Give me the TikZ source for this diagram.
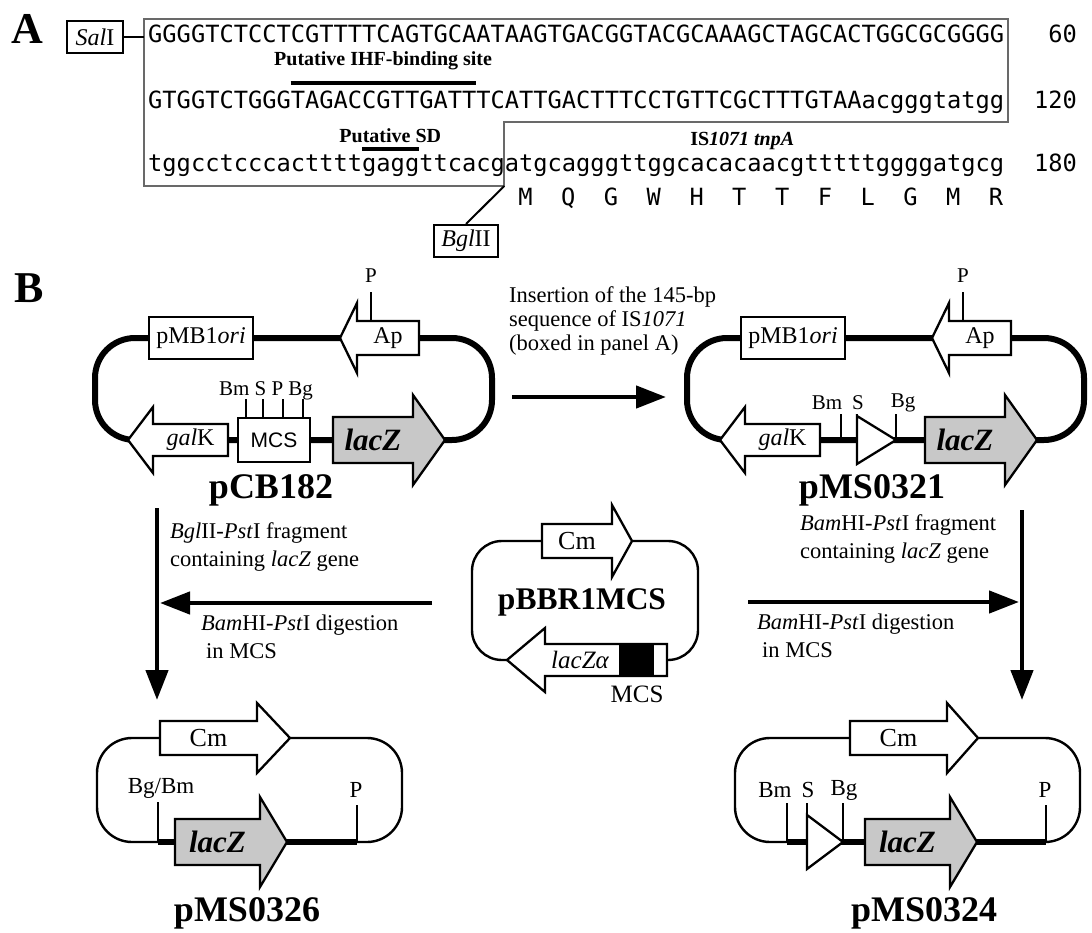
\documentclass[tikz,border=0pt]{standalone}
\usepackage{fontspec}
\setmainfont{Liberation Serif}
\newfontfamily\seqfont{DejaVu Sans Mono}
\newfontfamily\mcsfont{Liberation Sans}
\usetikzlibrary{arrows.meta}
\definecolor{lacgray}{RGB}{200,200,200}
\definecolor{boxgray}{RGB}{105,105,105}
\tikzset{
	seq/.style     ={inner sep=0pt, anchor=base west, font=\seqfont\fontsize{23.7}{28}\selectfont},
	aa/.style      ={inner sep=0pt, anchor=base, font=\seqfont\fontsize{23.7}{28}\selectfont},
	panel/.style   ={inner sep=0pt, font=\bfseries\fontsize{44}{48}\selectfont},
	enz/.style     ={draw, line width=2pt, inner sep=0pt, minimum height=32pt, font=\fontsize{24}{28}\selectfont},
	motif/.style   ={inner sep=0pt, font=\bfseries\fontsize{20}{24}\selectfont},
	motifbar/.style={line width=4.5pt},
	seqbox/.style  ={draw=boxgray, line width=1.6pt},
	% plasmid maps
	bbthick/.style ={line width=6pt},
	bbthin/.style  ={line width=2.4pt},
	gout/.style    ={draw, fill=white, line width=2.3pt, line join=miter},
	genelbl/.style ={inner sep=0pt, font=\fontsize{24}{28}\selectfont},
	gbox/.style    ={draw, fill=white, line width=2.3pt, inner sep=0pt, font=\fontsize{24}{28}\selectfont},
	tick/.style    ={line width=2pt},
	sitelbl/.style ={inner sep=0pt, font=\fontsize{21}{24}\selectfont},
	sitelblb/.style={inner sep=0pt, font=\fontsize{23}{26}\selectfont},
	pname/.style   ={inner sep=0pt, font=\bfseries\fontsize{36}{40}\selectfont},
	note/.style    ={inner sep=0pt, anchor=north west, align=left, font=\fontsize{22.5}{28}\selectfont},
	bigarrow/.style={line width=4.5pt, -{Triangle[length=30pt,width=22pt]}},
}
% gene arrow: name, style, tail x, head base x, tip x, y, body half height, head half height, label
\newcommand{\gene}[9]{%
	\draw[#2] (#3,{#6-#7}) -- (#4,{#6-#7}) -- (#4,{#6-#8}) -- (#5,#6)
		-- (#4,{#6+#8}) -- (#4,{#6+#7}) -- (#3,{#6+#7}) -- cycle;
	\node[genelbl] (#1) at ({(#3+#4)/2},#6) {#9};}
\newcommand{\lacz}{\fontsize{31}{34}\selectfont\bfseries\itshape lacZ}
% common part of the two pMB1 vectors
\newcommand{\topvec}[2]{%
	\draw[bbthick, rounded corners=40pt] (95,338) rectangle (492,440);
	\node[gbox, minimum width=104pt, minimum height=42pt] (#1ori) at (201,338) {pMB1\textit{ori}};
	\gene{#1ap}{gout}{419}{357}{340}{338}{17}{35}{Ap}
	\draw[tick] (371,321) -- (371,292);
	\node[sitelbl] (#1p) at (371,276) {P};
	\gene{#1gal}{gout}{228}{153}{128}{440}{16}{33}{\textit{gal}K}
	\gene{#1lac}{gout, fill=lacgray}{333}{413}{445}{440}{23}{45}{\lacz}
	\node[pname] (#1name) at (#2) {#2};}

\begin{document}
\begin{tikzpicture}[x=1pt, y=-1pt]
	\useasboundingbox (0,0) rectangle (1092,933);
	\def\xo{148}
	\def\cw{14.25}

	% ---- panel A: sequence ----
	\node[panel] (pA) at (27,29) {A};
	\draw[seqbox] (144,19) -- (1008,19) -- (1008,122) -- ({\xo+25*\cw},122)
		-- ({\xo+25*\cw},186) -- (144,186) -- cycle;
	\node[seq] (row1) at (\xo,42.5) {GGGGTCTCCTCGTTTTCAGTGCAATAAGTGACGGTACGCAAAGCTAGCACTGGCGCGGGG};
	\node[seq] (row2) at (\xo,108.5) {GTGGTCTGGGTAGACCGTTGATTTCATTGACTTTCCTGTTCGCTTTGTAAacgggtatgg};
	\node[seq] (row3) at (\xo,171.5) {tggcctcccacttttgaggttcacgatgcagggttggcacacaacgtttttggggatgcg};
	\node[seq, anchor=base east] (n60) at (1077,42.5) {60};
	\node[seq, anchor=base east] (n120) at (1077,108.5) {120};
	\node[seq, anchor=base east] (n180) at (1077,171.5) {180};

	\node[enz, minimum width=56pt] (sal) at (95,37) {\textit{Sal}I};
	\coordinate (seqL) at (144,37);
	\draw[line width=2pt] (sal) -- (seqL);
	\node[enz, minimum width=64pt] (bgl) at (466,241) {\textit{Bgl}II};
	\coordinate (seqStep) at ({\xo+25*\cw},186);
	\draw[line width=2pt] (bgl.north) -- (seqStep);

	\draw[motifbar] ({\xo+10*\cw},83) -- ({\xo+23*\cw},83);
	\node[motif] (ihf) at ({\xo+16.5*\cw},61) {Putative IHF-binding site};
	\draw[motifbar] ({\xo+15*\cw},149) -- ({\xo+19*\cw},149);
	\node[motif] (sd) at ({\xo+17*\cw},136) {Putative SD};
	\node[motif] (tnpa) at ({\xo+41.7*\cw},141) {IS\textit{1071 tnpA}};
	\foreach \a [count=\i from 0] in {M,Q,G,W,H,T,T,F,L,G,M,R}
		\node[aa] (aa\i) at ({\xo+(26.5+3*\i)*\cw},205.5) {\a};

	% ---- panel B: constructions ----
	\node[panel] (pB) at (29,288) {B};

	% pCB182
	\coordinate (pCB182) at (271,490);
	\topvec{cb}{pCB182}
	\foreach \x in {246,263,283,303}
		\draw[tick] (\x,418) -- (\x,399);
	\node[gbox, minimum width=72pt, minimum height=44pt, font=\mcsfont\fontsize{21}{24}\selectfont] (cbmcs) at (274,440) {MCS};
	\node[sitelbl] (cbsites) at (266,391) {Bm S P Bg};

	% pMS0321
	\begin{scope}[xshift=592pt]
		\coordinate (pMS0321) at (280,490);
		\topvec{ms}{pMS0321}
	\end{scope}
	\draw[tick] (841,440) -- (841,414);
	\draw[tick] (857,418) -- (857,414);
	\draw[tick] (896,440) -- (896,414);
	\draw[gout] (857,416) -- (857,464) -- (896,440) -- cycle;
	\node[sitelbl] (msbm) at (827,403) {Bm};
	\node[sitelbl] (mss) at (858,403) {S};
	\node[sitelbl] (msbg) at (903,403) {Bg};

	\node[note, font=\fontsize{22.5}{24}\selectfont] (ins) at (509,286) {Insertion of the 145-bp\\sequence of IS\textit{1071}\\(boxed in panel A)};
	\coordinate (insS) at (512,397);
	\coordinate (insE) at (666,397);
	\draw[bigarrow] (insS) -- (insE);

	% pBBR1MCS
	\draw[bbthin, rounded corners=30pt] (472,541) rectangle (698,660);
	\gene{bbcm}{gout}{542}{612}{632}{541}{17}{36}{\fontsize{26}{28}\selectfont Cm}
	\gene{bblac}{gout}{667}{545}{507}{660}{16}{32}{}
	\fill (620,644) rectangle (653,676);
	\draw[line width=2.3pt] (620,644) rectangle (653,676);
	\node[genelbl, font=\fontsize{25}{28}\selectfont\itshape] (bblz) at (580,660) {lacZα};
	\node[genelbl, font=\fontsize{25}{28}\selectfont] (bbmcs) at (637,694) {MCS};
	\node[pname, font=\bfseries\fontsize{31.5}{34}\selectfont] (bbname) at (582,602) {pBBR1MCS};

	% left route
	\coordinate (lvS) at (157,508);
	\coordinate (lvE) at (157,700);
	\draw[bigarrow] (lvS) -- (lvE);
	\coordinate (lhS) at (432,603);
	\coordinate (lhE) at (160,603);
	\draw[bigarrow] (lhS) -- (lhE);
	\node[note] (fragl) at (170,522) {\textit{Bgl}II-\textit{Pst}I fragment\\containing \textit{lacZ} gene};
	\node[note] (digl) at (201,615) {\textit{Bam}HI-\textit{Pst}I digestion\\\hspace*{5pt}in MCS};

	% right route
	\coordinate (rvS) at (1022,510);
	\coordinate (rvE) at (1022,700);
	\draw[bigarrow] (rvS) -- (rvE);
	\coordinate (rhS) at (748,602);
	\coordinate (rhE) at (1019,602);
	\draw[bigarrow] (rhS) -- (rhE);
	\node[note] (fragr) at (800,514) {\textit{Bam}HI-\textit{Pst}I fragment\\containing \textit{lacZ} gene};
	\node[note] (digr) at (757,614) {\textit{Bam}HI-\textit{Pst}I digestion\\\hspace*{5pt}in MCS};

	% pMS0326
	\draw[bbthin, rounded corners=35pt] (97,738) rectangle (402,842);
	\draw[bbthick] (158,842) -- (357,842);
	\gene{c6cm}{gout}{160}{257}{290}{738}{17}{35}{\fontsize{26}{28}\selectfont Cm}
	\gene{c6lac}{gout, fill=lacgray}{175}{260}{287}{842}{23}{45}{\lacz}
	\draw[tick] (158,842) -- (158,802);
	\draw[tick] (357,842) -- (357,805);
	\node[sitelblb] (c6bg) at (161,788) {Bg/Bm};
	\node[sitelblb] (c6p) at (356,790) {P};
	\node[pname] (c6name) at (247,913) {pMS0326};

	% pMS0324
	\draw[bbthin, rounded corners=35pt] (735,738) rectangle (1080,842);
	\draw[bbthick] (787,842) -- (1046,842);
	\gene{c4cm}{gout}{850}{947}{978}{738}{17}{35}{\fontsize{26}{28}\selectfont Cm}
	\gene{c4lac}{gout, fill=lacgray}{865}{950}{977}{842}{23}{45}{\lacz}
	\draw[gout] (807,815) -- (807,869) -- (843,842) -- cycle;
	\draw[tick] (787,842) -- (787,803);
	\draw[tick] (807,815) -- (807,803);
	\draw[tick] (843,842) -- (843,803);
	\draw[tick] (1046,842) -- (1046,805);
	\node[sitelblb] (c4bm) at (775,790) {Bm};
	\node[sitelblb] (c4s) at (808,790) {S};
	\node[sitelblb] (c4bg) at (844,790) {Bg};
	\node[sitelblb] (c4p) at (1045,790) {P};
	\node[pname] (c4name) at (924,913) {pMS0324};
\end{tikzpicture}
\end{document}
